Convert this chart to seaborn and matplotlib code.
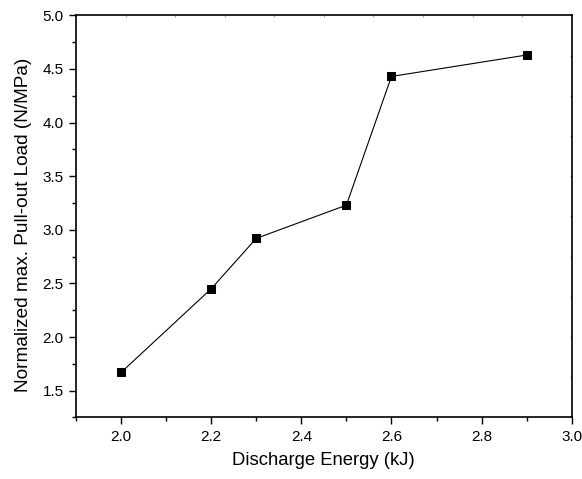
import numpy as np
import pandas as pd
import matplotlib
matplotlib.use("Agg")
import matplotlib.pyplot as plt
from matplotlib.ticker import MultipleLocator, FixedLocator, NullFormatter
import seaborn as sns

# Discharge energy (kJ) and normalized maximum pull-out load (N/MPa)
energy = [2.0, 2.2, 2.3, 2.5, 2.6, 2.9]
pullout_load = [1.67, 2.45, 2.92, 3.23, 4.43, 4.63]

x_ticks = [2.0, 2.2, 2.4, 2.6, 2.8, 3.0]
y_ticks = [1.5, 2.0, 2.5, 3.0, 3.5, 4.0, 4.5, 5.0]

sns.set_theme(style="ticks")
plt.rcParams["font.family"] = ["Liberation Sans", "DejaVu Sans"]

df = pd.DataFrame({"energy": energy, "load": pullout_load})

fig = plt.figure(figsize=(5.82, 4.79), dpi=100)
ax = fig.add_axes([0.1306, 0.1284, 0.8517, 0.8396])

sns.lineplot(data=df, x="energy", y="load", ax=ax, color="black",
             linewidth=0.8, marker="s", markersize=6.3,
             markeredgecolor="black", markerfacecolor="black")

ax.set_xlim(1.9, 3.0)
ax.set_ylim(1.25, 5.0)

ax.xaxis.set_major_locator(FixedLocator(x_ticks))
ax.xaxis.set_minor_locator(MultipleLocator(0.1))
ax.yaxis.set_major_locator(FixedLocator(y_ticks))
ax.yaxis.set_minor_locator(MultipleLocator(0.25))
ax.set_xticklabels([f"{v:.1f}" for v in x_ticks])
ax.set_yticklabels([f"{v:.1f}" for v in y_ticks])

ax.tick_params(axis="both", which="major", direction="out", length=5,
               width=1.0, labelsize=11, color="black", labelcolor="black", pad=4)
ax.tick_params(axis="both", which="minor", direction="out", length=3,
               width=1.0, color="black")

for side in ["left", "bottom", "top", "right"]:
    ax.spines[side].set_visible(True)
    ax.spines[side].set_color("black")
    ax.spines[side].set_linewidth(1.2)

# faint inward ticks on the opposite axes
top = ax.secondary_xaxis("top")
top.xaxis.set_major_locator(FixedLocator(np.linspace(1.9, 3.0, 11)))
top.xaxis.set_major_formatter(NullFormatter())
top.tick_params(direction="in", length=1.5, width=0.5, color="#777777")
top.spines["top"].set_visible(False)
right = ax.secondary_yaxis("right")
right.yaxis.set_major_locator(FixedLocator(np.linspace(1.25, 5.0, 11)))
right.yaxis.set_major_formatter(NullFormatter())
right.tick_params(direction="in", length=1.5, width=0.5, color="#777777")
right.spines["right"].set_visible(False)

ax.set_xlabel("Discharge Energy (kJ)", fontsize=13.3, color="black", labelpad=6)
ax.set_ylabel("Normalized max. Pull-out Load (N/MPa)", fontsize=13.7,
              color="black")
ax.yaxis.set_label_coords(-0.089, 0.478)

fig.savefig("out.png", dpi=100)
